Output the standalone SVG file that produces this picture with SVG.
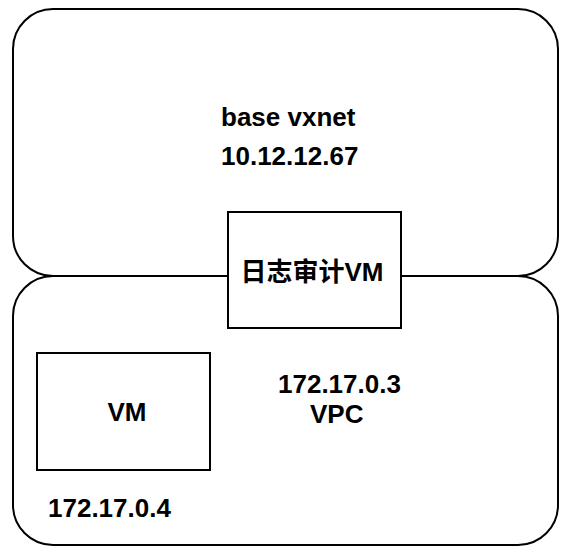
<svg xmlns="http://www.w3.org/2000/svg" width="568" height="556" viewBox="0 0 568 556">
<style>
.sh{fill:#fff;stroke:#000;stroke-width:2}
.t{font-family:"Liberation Sans","Noto Sans CJK SC",Arial,sans-serif;font-weight:bold;font-size:26px;fill:#000}
</style>
<rect width="568" height="556" fill="#fff"/>
<g id="base-vxnet">
<rect class="sh" x="13" y="9" width="545" height="267" rx="40" ry="40"/>
<text class="t" x="221" y="126">base vxnet</text>
<text class="t" x="221" y="165">10.12.12.67</text>
</g>
<g id="vpc">
<rect class="sh" x="13" y="276" width="545" height="269" rx="40" ry="40"/>
<text class="t" x="278" y="393">172.17.0.3</text>
<text class="t" x="310" y="423">VPC</text>
<text class="t" x="48" y="517">172.17.0.4</text>
</g>
<g id="audit-vm">
<rect class="sh" x="228" y="212" width="173" height="116"/>
<text class="t" x="312" y="281" text-anchor="middle">日志审计VM</text>
</g>
<g id="vm">
<rect class="sh" x="37" y="353" width="173" height="117"/>
<text class="t" x="127" y="421" text-anchor="middle">VM</text>
</g>
<g id="connectors"></g>
</svg>
